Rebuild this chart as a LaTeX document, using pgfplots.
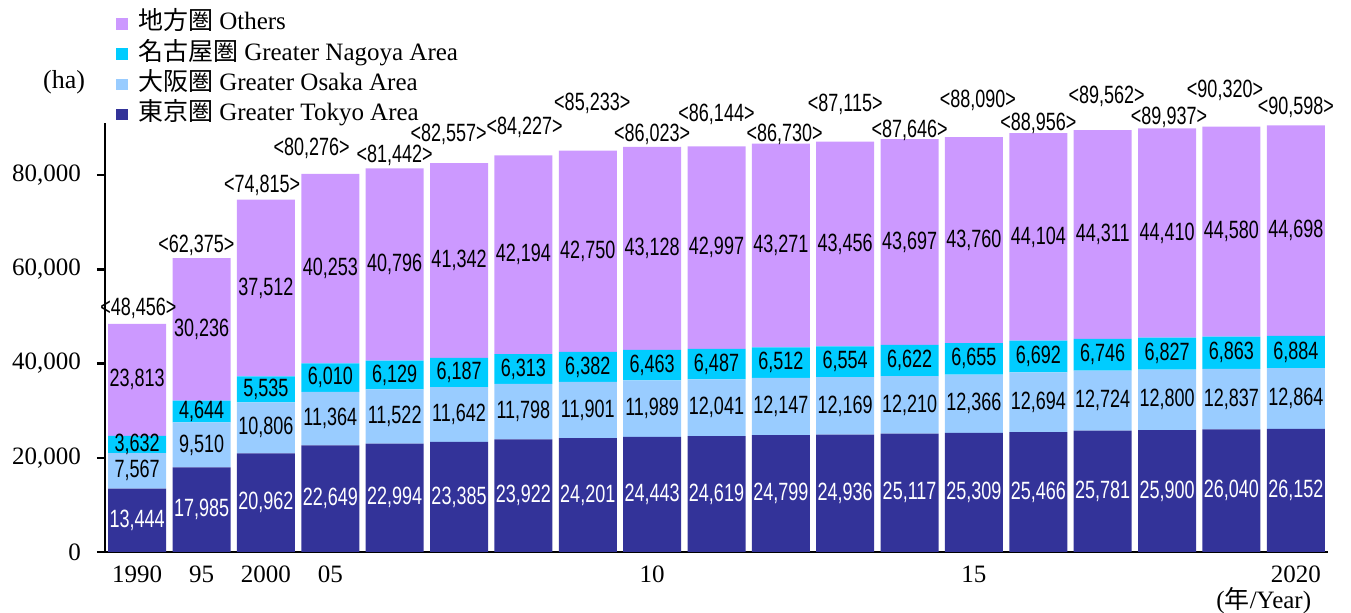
\documentclass[border=0pt]{standalone}
\usepackage{fontspec}
\setmainfont{Liberation Serif}
\newfontfamily\jp{Noto Sans CJK JP}
\newfontfamily\lab[FakeStretch=0.72]{Liberation Sans}
\usepackage{pgfplots}
\usepackage{pgfplotstable}
\pgfplotsset{compat=1.18}
\definecolor{cTokyo}{HTML}{333399}
\definecolor{cOsaka}{HTML}{99CCFF}
\definecolor{cNagoya}{HTML}{00CCFF}
\definecolor{cOthers}{HTML}{CC99FF}

\pgfplotstableread{
x tokyo osaka nagoya others total lx ly
0 13444 7567 3632 23813 48456 0.02 51805
1 17985 9510 4644 30236 62375 -0.08 65180
2 20962 10806 5535 37512 74815 -0.06 77919
3 22649 11364 6010 40253 80276 -0.29 85775
4 22994 11522 6129 40796 81442 0 84289
5 23385 11642 6187 41342 82557 -0.16 88747
6 23922 11798 6313 42194 84227 0.02 90234
7 24201 11901 6382 42750 85233 0.07 95329
8 24443 11989 6463 43128 86023 0 88747
9 24619 12041 6487 42997 86144 0 92994
10 24799 12147 6512 43271 86730 0.06 88747
11 24936 12169 6554 43456 87115 0 95117
12 25117 12210 6622 43697 87646 0 89597
13 25309 12366 6655 43760 88090 0.06 95966
14 25466 12694 6692 44104 88956 0 91083
15 25781 12724 6746 44311 89562 0.06 96815
16 25900 12800 6827 44410 89937 0.03 92357
17 26040 12837 6863 44580 90320 -0.1 98089
18 26152 12864 6884 44698 90598 0 94480
}\data
\pgfplotstablecreatecol[create col/expr={0.5*\thisrow{tokyo}}]{mt}{\data}
\pgfplotstablecreatecol[create col/expr={\thisrow{tokyo}+0.5*\thisrow{osaka}}]{mo}{\data}
\pgfplotstablecreatecol[create col/expr={\thisrow{tokyo}+\thisrow{osaka}+0.5*\thisrow{nagoya}}]{mn}{\data}
\pgfplotstablecreatecol[create col/expr={\thisrow{tokyo}+\thisrow{osaka}+\thisrow{nagoya}+0.5*\thisrow{others}}]{mh}{\data}
\pgfplotstablecreatecol[create col/expr={\thisrow{x}+\thisrow{lx}}]{tx}{\data}

\pgfplotsset{base/.style={
  scale only axis, width=611.5pt, height=214.3pt,
  xmin=-0.5, xmax=18.5, ymin=0, ymax=91000,
  at={(52.5pt,30.5pt)}, anchor=south west, clip=false,
}}

\begin{document}
\begin{tikzpicture}
\useasboundingbox (0,0) rectangle (675.5pt,306.5pt);
\begin{axis}[base,
  ybar stacked, bar width=29pt,
  axis x line*=bottom, axis y line*=left,
  axis line style={-, line width=1.2pt, black},
  xtick={0,1,2,3,8,13,18}, xticklabels={1990,95,2000,05,10,15,2020},
  x tick style={draw=none},
  ytick={0,20000,40000,60000,80000},
  y tick style={line width=1.2pt, black},
  tick align=outside, major tick length=4pt,
  scaled y ticks=false,
  /pgf/number format/assume math mode=true,
  /pgf/number format/1000 sep={,},
  tick label style={font=\fontsize{12.5}{14}\selectfont},
  xticklabel style={yshift=0.5pt},
  yticklabel style={xshift=-4.5pt},
  legend style={at={(0.009,1.266)}, anchor=north west, draw=none, fill=none,
    inner sep=0pt, font=\fontsize{12.5}{14}\selectfont, row sep=1.15pt,
    nodes={inner sep=1pt, text height=9pt, text depth=3pt},
    cells={anchor=west}},
  legend image code/.code={\fill[#1] (0pt,-2.9pt) rectangle (5.8pt,2.9pt);},
  reverse legend,
]
\addplot[fill=cTokyo, draw=none] table[x=x, y=tokyo]{\data};
\addlegendentry{\kern4pt{\jp 東京圏} Greater Tokyo Area}
\addplot[fill=cOsaka, draw=none] table[x=x, y=osaka]{\data};
\addlegendentry{\kern4pt{\jp 大阪圏} Greater Osaka Area}
\addplot[fill=cNagoya, draw=none] table[x=x, y=nagoya]{\data};
\addlegendentry{\kern4pt{\jp 名古屋圏} Greater Nagoya Area}
\addplot[fill=cOthers, draw=none] table[x=x, y=others]{\data};
\addlegendentry{\kern4pt{\jp 地方圏} Others}
\node[font=\fontsize{13}{14}\selectfont] at (axis description cs:-0.0335,1.095) {(ha)};
\node[font=\fontsize{12.5}{14}\selectfont] at (axis description cs:0.9475,-0.113) {({\jp 年}/Year)};
\end{axis}
\begin{axis}[base, hide axis,
  point meta=explicit,
  /pgf/number format/fixed, /pgf/number format/precision=0,
  /pgf/number format/1000 sep={,},
  nodes near coords={\pgfmathprintnumber[assume math mode=true]{\pgfplotspointmeta}},
  every node near coord/.append style={anchor=center, inner sep=0pt, font=\lab\fontsize{12.5}{14}\selectfont},
]
\addplot[draw=none, mark=none, nodes near coords style={text=white}] table[x=x, y=mt, meta=tokyo]{\data};
\addplot[draw=none, mark=none] table[x=x, y=mo, meta=osaka]{\data};
\addplot[draw=none, mark=none] table[x=x, y=mn, meta=nagoya]{\data};
\addplot[draw=none, mark=none] table[x=x, y=mh, meta=others]{\data};
\addplot[draw=none, mark=none, nodes near coords={<\pgfmathprintnumber[assume math mode=true]{\pgfplotspointmeta}>}] table[x=tx, y=ly, meta=total]{\data};
\end{axis}
\end{tikzpicture}
\end{document}
